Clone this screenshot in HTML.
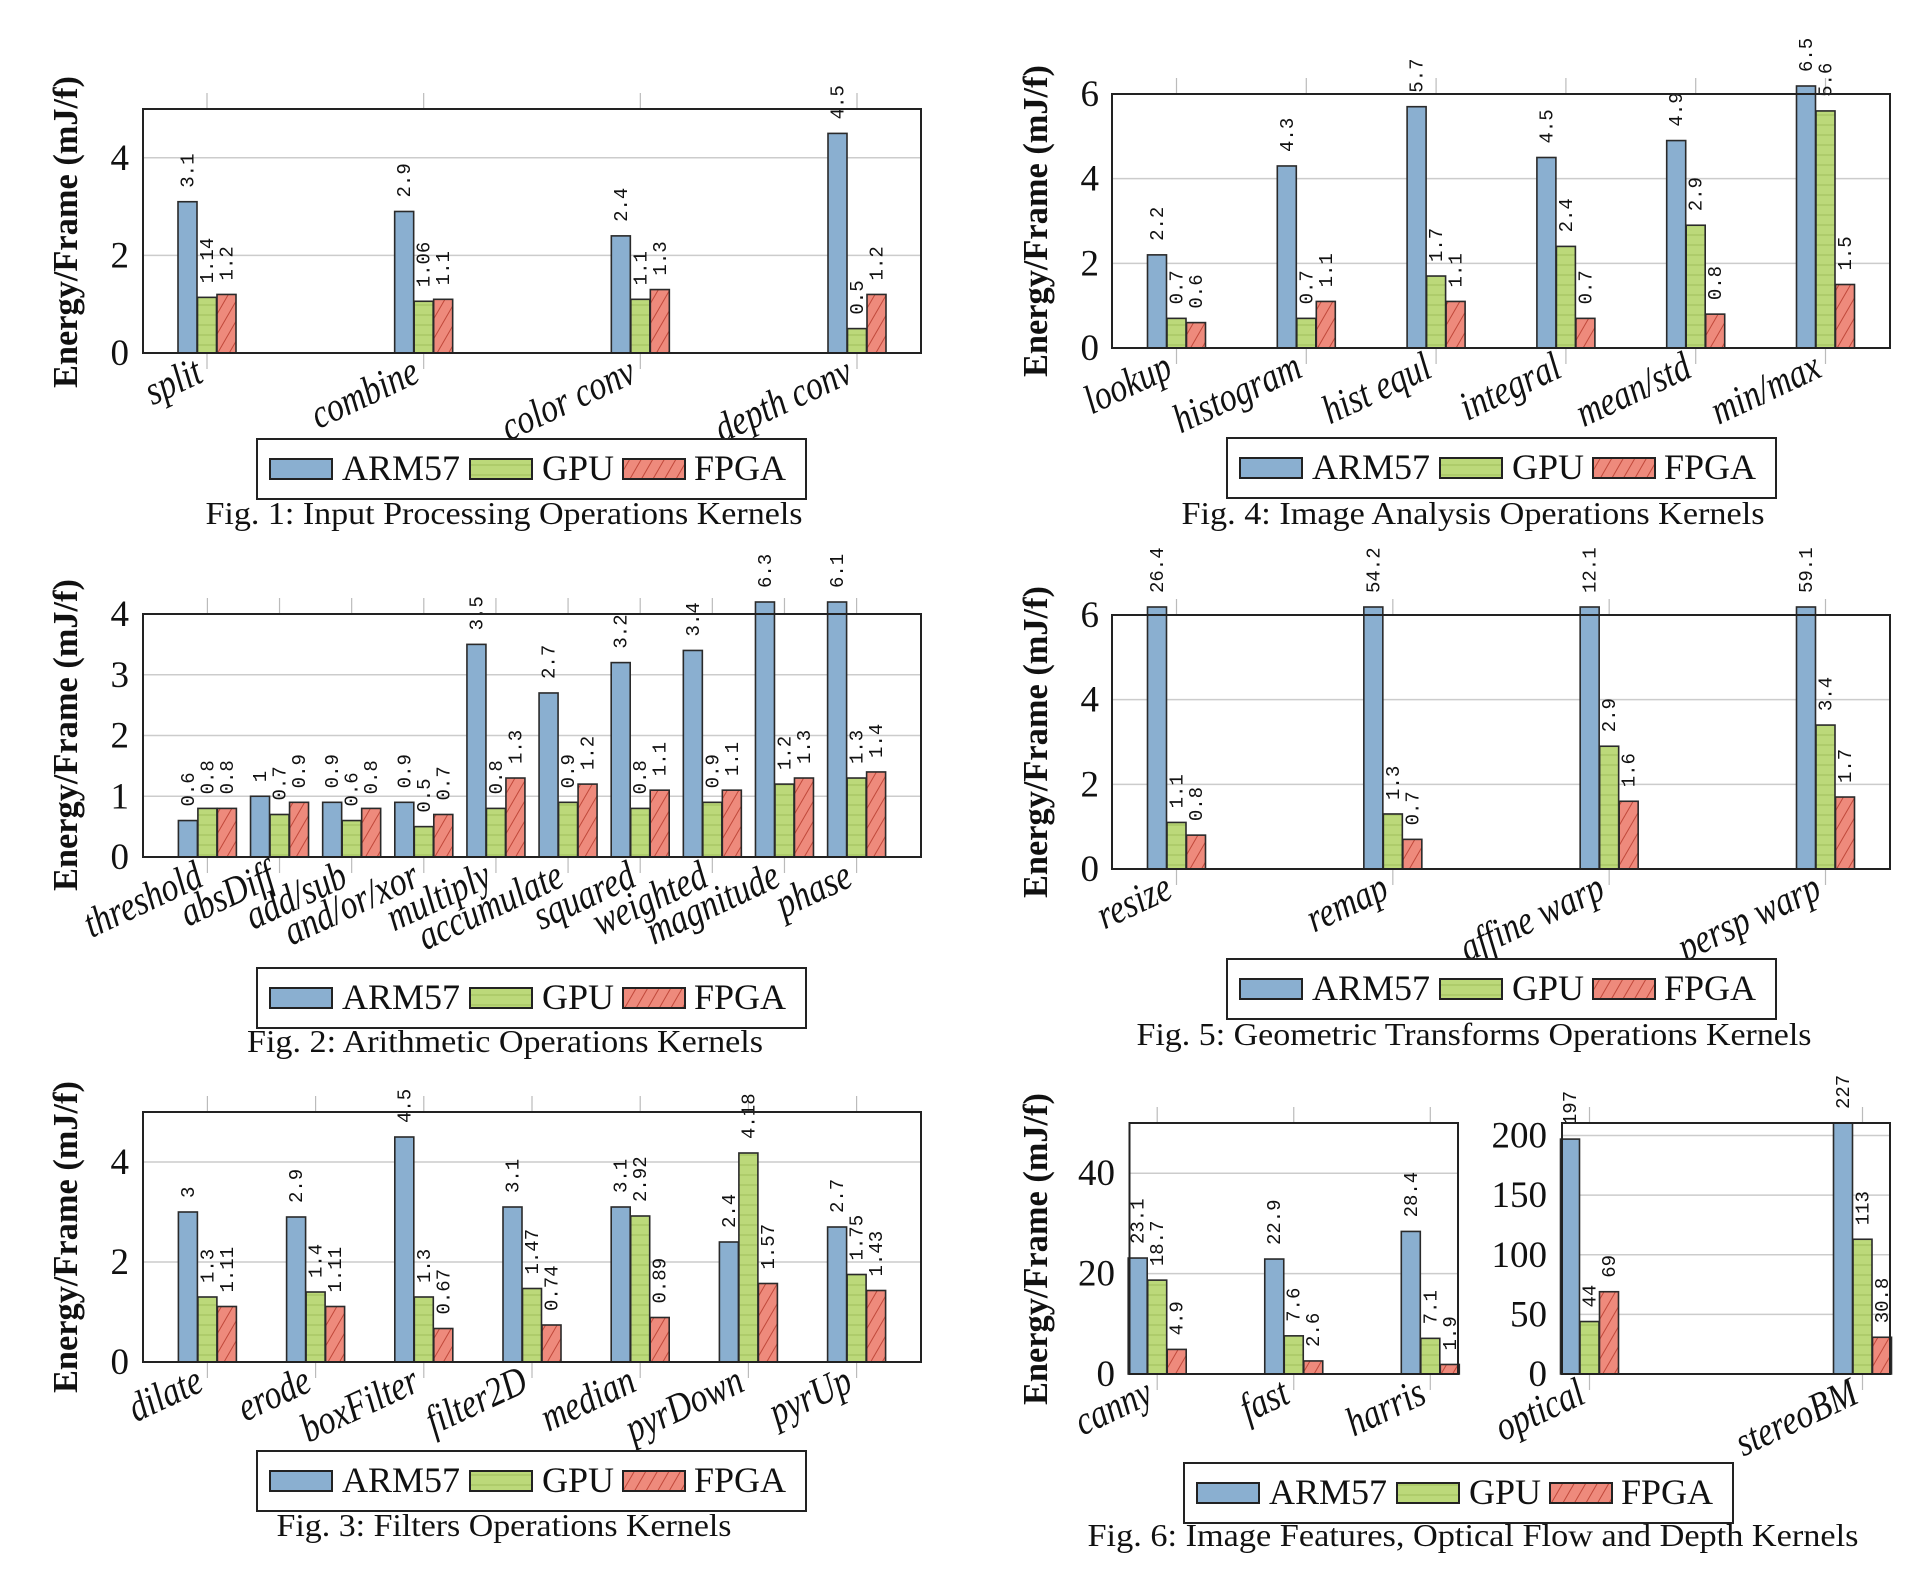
<!DOCTYPE html>
<html><head><meta charset="utf-8"><style>
html,body{margin:0;padding:0;background:#fff;}
svg{display:block;}
text{font-family:"Liberation Serif",serif;fill:#111;}
.val{font-family:"Liberation Mono",monospace;font-size:19px;}
</style></head><body>
<svg id="root" width="1918" height="1596" viewBox="0 0 1918 1596" xmlns="http://www.w3.org/2000/svg">
<defs>
<pattern id="gpuPat" patternUnits="userSpaceOnUse" width="10" height="10">
<rect width="10" height="10" fill="#bcd97a"/><line x1="0" y1="5" x2="10" y2="5" stroke="#9fbf5c" stroke-width="1"/>
</pattern>
<pattern id="fpgaPat" patternUnits="userSpaceOnUse" width="10" height="10" patternTransform="rotate(-60)">
<rect width="10" height="10" fill="#ee8a7c"/><line x1="0" y1="5" x2="10" y2="5" stroke="#c0483a" stroke-width="1"/>
</pattern>
</defs>
</svg>
<script>
const fig1Cats=["split","combine","color conv","depth conv"];
const fig1Arm=[3.1,2.9,2.4,4.5];
const fig1Gpu=[1.14,1.06,1.1,0.5];
const fig1Fpga=[1.2,1.1,1.3,1.2];
const fig1Ticks=[0,2,4];

const fig2Cats=["threshold","absDiff","add/sub","and/or/xor","multiply","accumulate","squared","weighted","magnitude","phase"];
const fig2Arm=[0.6,1,0.9,0.9,3.5,2.7,3.2,3.4,6.3,6.1];
const fig2Gpu=[0.8,0.7,0.6,0.5,0.8,0.9,0.8,0.9,1.2,1.3];
const fig2Fpga=[0.8,0.9,0.8,0.7,1.3,1.2,1.1,1.1,1.3,1.4];
const fig2Ticks=[0,1,2,3,4];

const fig3Cats=["dilate","erode","boxFilter","filter2D","median","pyrDown","pyrUp"];
const fig3Arm=[3,2.9,4.5,3.1,3.1,2.4,2.7];
const fig3Gpu=[1.3,1.4,1.3,1.47,2.92,4.18,1.75];
const fig3Fpga=[1.11,1.11,0.67,0.74,0.89,1.57,1.43];
const fig3Ticks=[0,2,4];

const fig4Cats=["lookup","histogram","hist equl","integral","mean/std","min/max"];
const fig4Arm=[2.2,4.3,5.7,4.5,4.9,6.5];
const fig4Gpu=[0.7,0.7,1.7,2.4,2.9,5.6];
const fig4Fpga=[0.6,1.1,1.1,0.7,0.8,1.5];
const fig4Ticks=[0,2,4,6];

const fig5Cats=["resize","remap","affine warp","persp warp"];
const fig5Arm=[26.4,54.2,12.1,59.1];
const fig5Gpu=[1.1,1.3,2.9,3.4];
const fig5Fpga=[0.8,0.7,1.6,1.7];
const fig5Ticks=[0,2,4,6];

const fig6aCats=["canny","fast","harris"];
const fig6aArm=[23.1,22.9,28.4];
const fig6aGpu=[18.7,7.6,7.1];
const fig6aFpga=[4.9,2.6,1.9];
const fig6aTicks=[0,20,40];

const fig6bCats=["optical","stereoBM"];
const fig6bArm=[197,227];
const fig6bGpu=[44,113];
const fig6bFpga=[69,30.8];
const fig6bTicks=[0,50,100,150,200];

const NS="http://www.w3.org/2000/svg";
const root=document.getElementById('root');
function mk(tag,attrs,parent,txt){const e=document.createElementNS(NS,tag);for(const k in attrs)e.setAttribute(k,attrs[k]);if(txt!==undefined)e.textContent=txt;(parent||root).appendChild(e);return e;}

function panel(c){
  const g=mk('g',{});
  
  
  const [L,T,R,B]=c.box;
  const yS=v=>B-(v/c.ymax)*(B-T);
  const n=c.cats.length;
  const xS=i=>n===1?(L+R)/2:L+c.pad+i*(R-L-2*c.pad)/(n-1);
  c.ticks.forEach(t=>{
    const gl=mk('line',{x1:L,x2:R,y1:yS(t),y2:yS(t),stroke:'#cccccc','stroke-width':1.5},g);
    
    
    if(c.tickX){
      const tl=mk('text',{x:c.tickX,y:yS(t)+12,'text-anchor':'end','font-size':37},g,String(t));
      
      
    }
  });
  for(let i=0;i<n;i++){
    const x=xS(i);
    mk('line',{x1:x,x2:x,y1:T-16,y2:T,stroke:'#bbbbbb','stroke-width':1.2},g);
    mk('line',{x1:x,x2:x,y1:B,y2:B+16,stroke:'#bbbbbb','stroke-width':1.2},g);
  }
  const series=[[c.arm,'#8aafd0',-1,'arm57'],[c.gpu,'url(#gpuPat)',0,'gpu'],[c.fpga,'url(#fpgaPat)',1,'fpga']];
  const bw=19, off=19.5;
  series.forEach(([vals,fill,k,sn])=>{
    vals.forEach((v,i)=>{
      const cx=xS(i)+k*off;
      const top=Math.max(yS(v),T-c.clip);
      const r=mk('rect',{x:cx-bw/2,y:top,width:bw,height:B-top,fill:fill,stroke:'#2a2a2a','stroke-width':1.6},g);
      
      
      const t=mk('text',{class:'val',x:cx+6,y:top-14,transform:`rotate(-90 ${cx+6} ${top-14})`},g,String(v));
      
      
    });
  });
  const bx=mk('rect',{x:L,y:T,width:R-L,height:B-T,fill:'none',stroke:'#222','stroke-width':2},g);
  
  
  c.cats.forEach((s,i)=>{
    const ax=xS(i)-2, ay=B+28;
    const t=mk('text',{x:0,y:0,'text-anchor':'end','font-size':41,'font-style':'italic',transform:`translate(${ax} ${ay}) rotate(-25) scale(0.82 1)`},g,s);
    
    
  });
  if(c.ylab){
    const [lx,ly]=c.ylab;
    const t=mk('text',{x:lx,y:ly,'text-anchor':'middle','font-size':35,'font-weight':'bold',textLength:312,lengthAdjust:'spacingAndGlyphs',transform:`rotate(-90 ${lx} ${ly})`,dy:12},g,'Energy/Frame (mJ/f)');
    
    
  }
}
function legend(x,y,name){
  const g=mk('g',{});
  
  
  mk('rect',{x:x,y:y,width:549,height:60,fill:'#fff',stroke:'#222','stroke-width':2},g);
  const items=[['ARM57','#8aafd0',13,85],['GPU','url(#gpuPat)',213,285],['FPGA','url(#fpgaPat)',366,437]];
  items.forEach(([lab,fill,sx,tx])=>{
    const s=mk('rect',{x:x+sx,y:y+20,width:62,height:20,fill:fill,stroke:'#222','stroke-width':2},g);
    
    
    const t=mk('text',{x:x+tx,y:y+41,'font-size':36},g,lab);
    
    
  });
}
function caption(cx,y,w,s){
  const t=mk('text',{x:cx,y:y,'text-anchor':'middle','font-size':32,textLength:w,lengthAdjust:'spacingAndGlyphs'},root,s);
  
  
}

panel({name:'fig1-chart',cats:fig1Cats,arm:fig1Arm,gpu:fig1Gpu,fpga:fig1Fpga,ticks:fig1Ticks,box:[143,109,921,353],ymax:5,pad:64,clip:8,tickX:129,ylab:[65,232]});
legend(257,439,'fig1-legend');caption(504,524,597,'Fig. 1: Input Processing Operations Kernels');

panel({name:'fig2-chart',cats:fig2Cats,arm:fig2Arm,gpu:fig2Gpu,fpga:fig2Fpga,ticks:fig2Ticks,box:[143,614,921,857],ymax:4,pad:64.4,clip:12,tickX:129,ylab:[65,735]});
legend(257,968,'fig2-legend');caption(505,1052,516,'Fig. 2: Arithmetic Operations Kernels');

panel({name:'fig3-chart',cats:fig3Cats,arm:fig3Arm,gpu:fig3Gpu,fpga:fig3Fpga,ticks:fig3Ticks,box:[143,1112,921,1362],ymax:5,pad:64.4,clip:8,tickX:129,ylab:[65,1237]});
legend(257,1451,'fig3-legend');caption(504,1536,455,'Fig. 3: Filters Operations Kernels');

panel({name:'fig4-chart',cats:fig4Cats,arm:fig4Arm,gpu:fig4Gpu,fpga:fig4Fpga,ticks:fig4Ticks,box:[1112,94,1890,348],ymax:6,pad:64.5,clip:8,tickX:1099,ylab:[1035,221]});
legend(1227,438,'fig4-legend');caption(1473,524,583,'Fig. 4: Image Analysis Operations Kernels');

panel({name:'fig5-chart',cats:fig5Cats,arm:fig5Arm,gpu:fig5Gpu,fpga:fig5Fpga,ticks:fig5Ticks,box:[1112,615,1890,869],ymax:6,pad:64.5,clip:8,tickX:1099,ylab:[1035,742]});
legend(1227,959,'fig5-legend');caption(1474,1045,675,'Fig. 5: Geometric Transforms Operations Kernels');

panel({name:'fig6-features-chart',cats:fig6aCats,arm:fig6aArm,gpu:fig6aGpu,fpga:fig6aFpga,ticks:fig6aTicks,box:[1129.5,1123,1458,1374],ymax:50,pad:27.7,clip:0,tickX:1115,ylab:[1035,1249]});
panel({name:'fig6-flow-depth-chart',cats:fig6bCats,arm:fig6bArm,gpu:fig6bGpu,fpga:fig6bFpga,ticks:fig6bTicks,box:[1562,1123,1890,1374],ymax:210.5,pad:27.5,clip:0,tickX:1547});
legend(1184,1463,'fig6-legend');caption(1473,1546,771,'Fig. 6: Image Features, Optical Flow and Depth Kernels');
</script>
</body></html>
